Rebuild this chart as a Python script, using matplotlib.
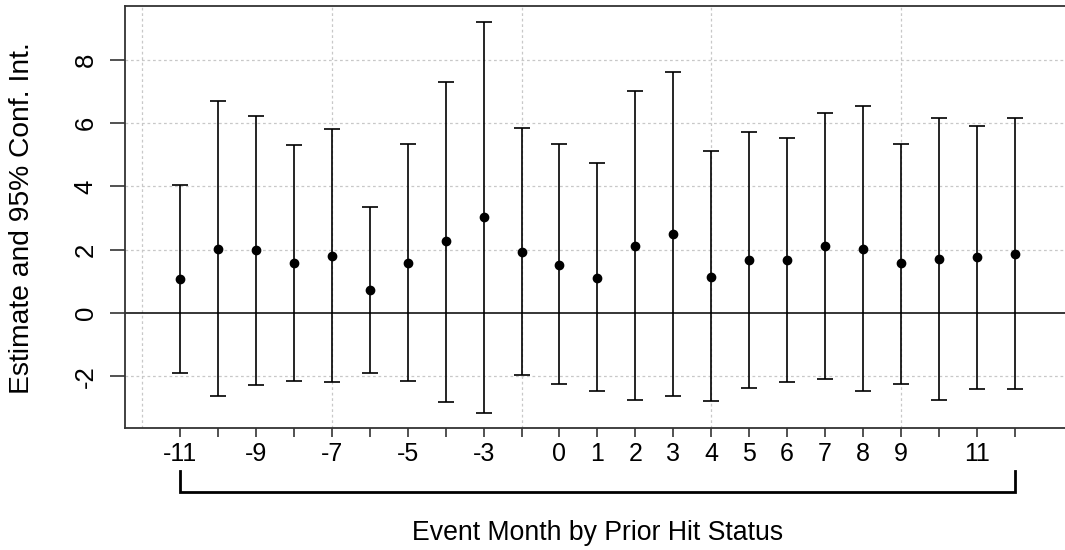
import numpy as np
import matplotlib.pyplot as plt

plt.rcParams.update({
    'font.family': ['Liberation Sans', 'DejaVu Sans'],
    'font.size': 18,
})

# Event months (month -1 is the omitted reference period)
months = [-11, -10, -9, -8, -7, -6, -5, -4, -3, -2, 0, 1, 2, 3, 4, 5, 6, 7, 8, 9, 10, 11, 12]
tick_labels = ['-11', '', '-9', '', '-7', '', '-5', '', '-3', '',
               '0', '1', '2', '3', '4', '5', '6', '7', '8', '9', '', '11', '']

estimate = [1.08, 2.03, 1.99, 1.57, 1.80, 0.74, 1.57, 2.28, 3.02, 1.94, 1.53, 1.12,
            2.13, 2.51, 1.15, 1.67, 1.67, 2.13, 2.03, 1.57, 1.72, 1.76, 1.86]
ci_upper = [4.05, 6.69, 6.22, 5.30, 5.81, 3.34, 5.33, 7.30, 9.20, 5.86, 5.33, 4.74,
            7.03, 7.63, 5.11, 5.72, 5.54, 6.32, 6.55, 5.35, 6.15, 5.91, 6.18]
ci_lower = [-1.91, -2.62, -2.29, -2.14, -2.19, -1.91, -2.14, -2.80, -3.17, -1.96, -2.25, -2.47,
            -2.74, -2.62, -2.78, -2.37, -2.19, -2.10, -2.47, -2.24, -2.74, -2.41, -2.41]

y_ticks = [-2, 0, 2, 4, 6, 8]

x = np.arange(1, len(months) + 1)
est = np.array(estimate)
lo = np.array(ci_lower)
hi = np.array(ci_upper)

fig = plt.figure(figsize=(10.65, 5.5), dpi=100)
ax = fig.add_axes([125 / 1065, 122 / 550, 960 / 1065, 422 / 550])

# grid in the style of R's grid(): dotted light grey
grid_kw = dict(color='#c8c8c8', lw=0.9, dashes=(2.2, 2.2), zorder=0)
for gx in [0, 5, 10, 15, 20]:
    ax.axvline(gx, **grid_kw)
for gy in [-2, 2, 4, 6, 8]:
    ax.axhline(gy, **grid_kw)

ax.axhline(0, color='black', lw=1.1, zorder=1)

ax.errorbar(x, est, yerr=[est - lo, hi - est], fmt='o', color='black',
            ms=6, elinewidth=1.2, capsize=5.5, capthick=1.2, zorder=3)

ax.set_xlim(-0.45, 24.85)
ax.set_ylim(-3.636, 9.706)

ax.set_xticks(x)
ax.set_xticklabels(tick_labels, fontsize=18)
ax.set_yticks(y_ticks)
ax.set_yticklabels([str(v) for v in y_ticks], rotation=90, va='center', fontsize=18.5)
ax.tick_params(axis='x', length=6.5, width=1.1, pad=3.5, color='#222222')
ax.tick_params(axis='y', length=10.8, width=1.1, pad=9, color='#222222')

for side in ['left', 'top', 'bottom']:
    ax.spines[side].set_color('#333333')
    ax.spines[side].set_linewidth(1.3)
ax.spines['right'].set_visible(False)

# bracket spanning all event months
bx = [x[0], x[0], x[-1], x[-1]]
by = [-5.0, -5.66, -5.66, -5.0]
ax.plot(bx, by, color='black', lw=2.0, clip_on=False, solid_joinstyle='miter')

ax.text(12, -6.96, 'Event Month by Prior Hit Status', ha='center', va='center',
        fontsize=19.2, clip_on=False)
fig.text(22 / 1065, 1 - 218 / 550, 'Estimate and 95% Conf. Int.', rotation=90,
         ha='center', va='center', fontsize=20.3)

fig.savefig('out.png', dpi=100)
